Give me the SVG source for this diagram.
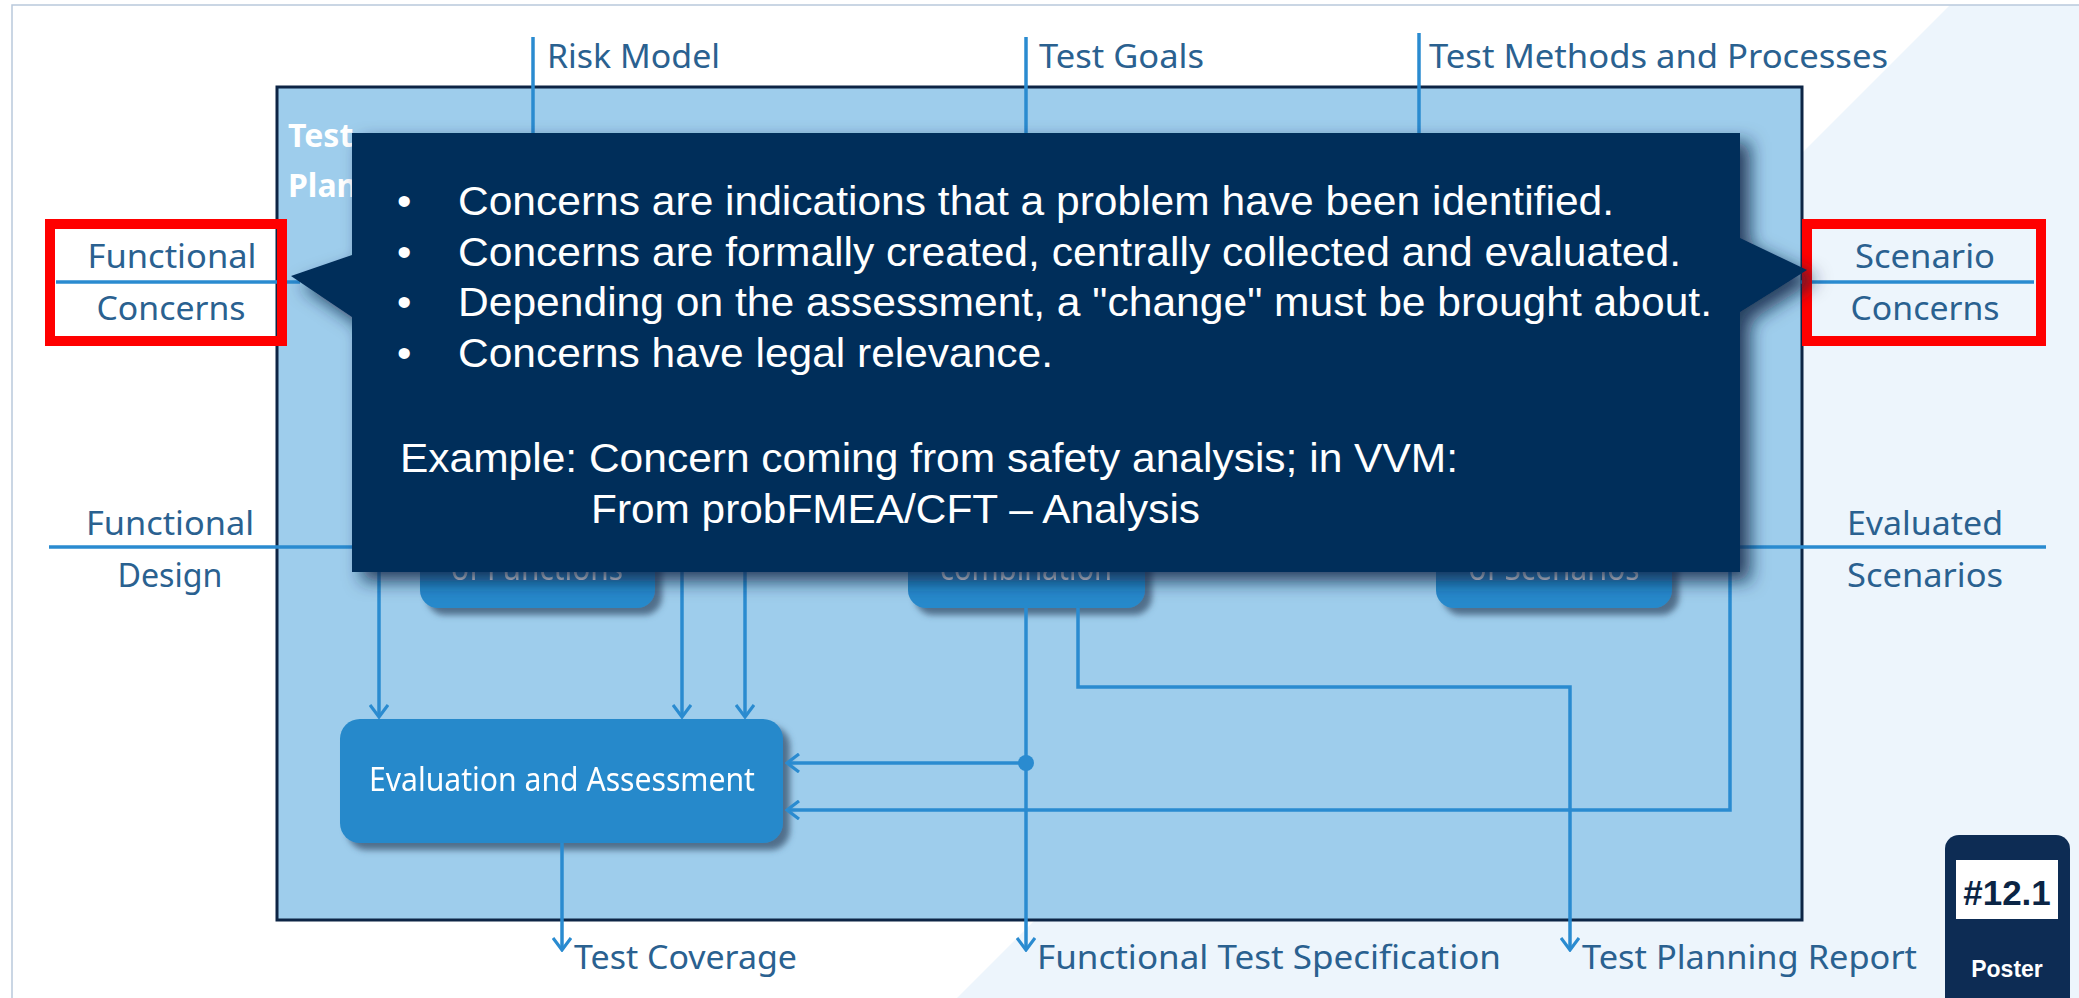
<svg xmlns="http://www.w3.org/2000/svg" width="2079" height="998" viewBox="0 0 2079 998">
  <defs>
    <style>
      .lbl { font-family: "Noto Sans", "Open Sans", sans-serif; font-size: 32px; fill: #2a6190; }
      .box { fill: #2589cb; }
      .boxtxt { font-family: "Noto Sans", "Open Sans", sans-serif; font-size: 32px; fill: #ffffff; }
      .wire { fill: none; stroke: #2a8bd0; stroke-width: 3.5; }
      .arr { marker-end: url(#ah); }
      .note { font-family: "Liberation Sans", Arial, sans-serif; font-size: 41px; fill: #ffffff; }
      .hl { fill: none; stroke: #ff0000; stroke-width: 10; }
    </style>
    <marker id="ah" viewBox="0 0 16 20" refX="14" refY="10" markerWidth="16" markerHeight="20" markerUnits="userSpaceOnUse" orient="auto">
      <path d="M2,1 L14,10 L2,19" fill="none" stroke="#2a8bd0" stroke-width="3.2"/>
    </marker>
    <filter id="boxShadow" x="-10%" y="-10%" width="130%" height="140%">
      <feDropShadow dx="7" dy="7" stdDeviation="3" flood-color="#34506a" flood-opacity="0.75"/>
    </filter>
    <filter id="noteShadow" x="-5%" y="-10%" width="115%" height="130%">
      <feDropShadow dx="10" dy="9" stdDeviation="9" flood-color="#0a2845" flood-opacity="0.85"/>
    </filter>
  </defs>

  <!-- page background -->
  <rect x="0" y="0" width="2079" height="998" fill="#ffffff"/>
  <polygon points="1950,5 2079,5 2079,998 957,998" fill="#edf5fc"/>
  <rect x="12" y="5" width="2100" height="1100" fill="none" stroke="#b9c9dc" stroke-width="1.5"/>

  <!-- test planning frame -->
  <g id="frame">
    <rect x="277" y="87" width="1525" height="833" fill="#9ecdec" stroke="#0d2545" stroke-width="3"/>
    <text x="288" y="147" font-family="Noto Sans, sans-serif" font-weight="bold" font-size="32" fill="#ffffff">Test</text>
    <text x="288" y="197" font-family="Noto Sans, sans-serif" font-weight="bold" font-size="32" fill="#ffffff">Plan</text>
  </g>

  <!-- inner activities -->
  <g id="node-functions" filter="url(#boxShadow)">
    <rect class="box" x="420" y="470" width="235" height="138" rx="18"/>
    <text class="boxtxt" x="537" y="580" text-anchor="middle" textLength="172" lengthAdjust="spacingAndGlyphs">of Functions</text>
  </g>
  <g id="node-combination" filter="url(#boxShadow)">
    <rect class="box" x="908" y="470" width="237" height="138" rx="18"/>
    <text class="boxtxt" x="1026" y="580" text-anchor="middle" textLength="172" lengthAdjust="spacingAndGlyphs">combination</text>
  </g>
  <g id="node-scenarios" filter="url(#boxShadow)">
    <rect class="box" x="1436" y="470" width="236" height="138" rx="18"/>
    <text class="boxtxt" x="1554" y="580" text-anchor="middle" textLength="171" lengthAdjust="spacingAndGlyphs">of Scenarios</text>
  </g>
  <g id="node-evaluation" filter="url(#boxShadow)">
    <rect class="box" x="340" y="719" width="443" height="124" rx="20"/>
    <text class="boxtxt" x="369" y="791" font-size="34" textLength="386" lengthAdjust="spacingAndGlyphs">Evaluation and Assessment</text>
  </g>

  <!-- connectors -->
  <g id="connectors">
    <line class="wire" x1="533" y1="37" x2="533" y2="140"/>
    <line class="wire" x1="1026" y1="37" x2="1026" y2="140"/>
    <line class="wire" x1="1419" y1="33" x2="1419" y2="140"/>
    <line class="wire" x1="56" y1="282" x2="300" y2="282"/>
    <line class="wire" x1="1800" y1="282" x2="2034" y2="282"/>
    <line class="wire" x1="49" y1="547" x2="400" y2="547"/>
    <line class="wire" x1="1700" y1="547" x2="2046" y2="547"/>
    <line class="wire arr" x1="379" y1="540" x2="379" y2="717"/>
    <line class="wire arr" x1="682" y1="540" x2="682" y2="717"/>
    <line class="wire arr" x1="745" y1="540" x2="745" y2="717"/>
    <line class="wire arr" x1="562" y1="843" x2="562" y2="950"/>
    <line class="wire arr" x1="1026" y1="608" x2="1026" y2="950"/>
    <line class="wire arr" x1="1026" y1="763" x2="787" y2="763"/>
    <circle cx="1026" cy="763" r="8" fill="#2a8bd0"/>
    <polyline class="wire arr" points="1078,608 1078,687 1570,687 1570,950"/>
    <polyline class="wire arr" points="1730,560 1730,810 787,810"/>
  </g>

  <!-- inputs and outputs -->
  <g id="labels">
    <text class="lbl" x="547" y="68" textLength="173" lengthAdjust="spacingAndGlyphs">Risk Model</text>
    <text class="lbl" x="1039" y="68" textLength="165" lengthAdjust="spacingAndGlyphs">Test Goals</text>
    <text class="lbl" x="1429" y="68" textLength="459" lengthAdjust="spacingAndGlyphs">Test Methods and Processes</text>
    <text class="lbl" x="172" y="268" text-anchor="middle" textLength="169" lengthAdjust="spacingAndGlyphs">Functional</text>
    <text class="lbl" x="171" y="320" text-anchor="middle" textLength="149" lengthAdjust="spacingAndGlyphs">Concerns</text>
    <text class="lbl" x="1925" y="268" text-anchor="middle" textLength="140" lengthAdjust="spacingAndGlyphs">Scenario</text>
    <text class="lbl" x="1925" y="320" text-anchor="middle" textLength="149" lengthAdjust="spacingAndGlyphs">Concerns</text>
    <text class="lbl" x="170" y="535" text-anchor="middle" textLength="168" lengthAdjust="spacingAndGlyphs">Functional</text>
    <text class="lbl" x="170" y="587" text-anchor="middle" textLength="105" lengthAdjust="spacingAndGlyphs">Design</text>
    <text class="lbl" x="1925" y="535" text-anchor="middle" textLength="156" lengthAdjust="spacingAndGlyphs">Evaluated</text>
    <text class="lbl" x="1925" y="587" text-anchor="middle" textLength="156" lengthAdjust="spacingAndGlyphs">Scenarios</text>
    <text class="lbl" x="574" y="969" textLength="223" lengthAdjust="spacingAndGlyphs">Test Coverage</text>
    <text class="lbl" x="1037" y="969" textLength="464" lengthAdjust="spacingAndGlyphs">Functional Test Specification</text>
    <text class="lbl" x="1582" y="969" textLength="335" lengthAdjust="spacingAndGlyphs">Test Planning Report</text>
  </g>

  <!-- highlighted concern inputs -->
  <g id="highlight-functional-concerns">
    <rect class="hl" x="50" y="224" width="232" height="117"/>
  </g>
  <g id="highlight-scenario-concerns">
    <rect class="hl" x="1807" y="224" width="234" height="117"/>
  </g>

  <!-- explanatory callout -->
  <g id="callout">
    <path d="M352,133 H1740 V238 L1807,270 L1740,312 V572 H352 V317 L291,276 L352,255 Z" fill="#012d5a" filter="url(#noteShadow)"/>
    <text class="note" x="397" y="215">•</text>
    <text class="note" x="458" y="215" textLength="1156" lengthAdjust="spacingAndGlyphs">Concerns are indications that a problem have been identified.</text>
    <text class="note" x="397" y="266">•</text>
    <text class="note" x="458" y="266" textLength="1223" lengthAdjust="spacingAndGlyphs">Concerns are formally created, centrally collected and evaluated.</text>
    <text class="note" x="397" y="316">•</text>
    <text class="note" x="458" y="316" textLength="1254" lengthAdjust="spacingAndGlyphs">Depending on the assessment, a "change" must be brought about.</text>
    <text class="note" x="397" y="367">•</text>
    <text class="note" x="458" y="367" textLength="595" lengthAdjust="spacingAndGlyphs">Concerns have legal relevance.</text>
    <text class="note" x="400" y="472" textLength="1058" lengthAdjust="spacingAndGlyphs">Example: Concern coming from safety analysis; in VVM:</text>
    <text class="note" x="591" y="523" textLength="609" lengthAdjust="spacingAndGlyphs">From probFMEA/CFT – Analysis</text>
  </g>

  <!-- poster badge -->
  <g id="badge">
    <rect x="1945" y="835" width="125" height="200" rx="14" fill="#0d2c54"/>
    <rect x="1956" y="860" width="102" height="59" fill="#ffffff"/>
    <text x="2007" y="905" text-anchor="middle" font-family="Liberation Sans, Arial, sans-serif" font-weight="bold" font-size="35" fill="#0b2545">#12.1</text>
    <text x="2007" y="977" text-anchor="middle" font-family="Liberation Sans, Arial, sans-serif" font-weight="bold" font-size="23" fill="#ffffff">Poster</text>
  </g>
</svg>
